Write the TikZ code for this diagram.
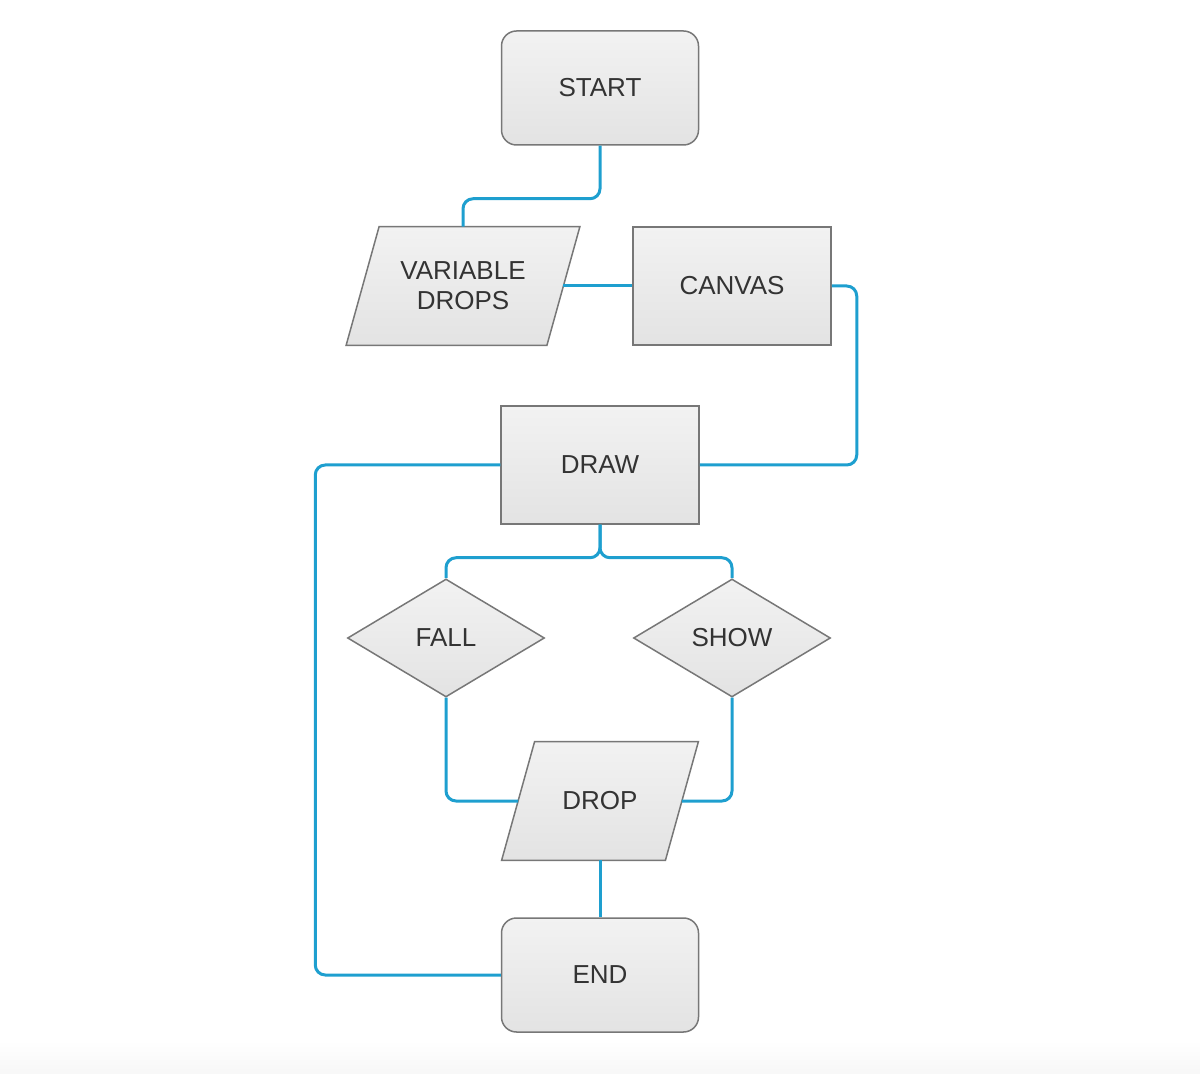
\documentclass[tikz,border=0pt]{standalone}
\usepackage{fontspec}
\setmainfont{Liberation Sans}
\usetikzlibrary{shapes.geometric,backgrounds}
\definecolor{linkblue}{HTML}{1E9FCF}
\definecolor{boxline}{HTML}{777777}
\definecolor{boxtop}{HTML}{F2F2F2}
\definecolor{boxbot}{HTML}{E3E3E3}
\definecolor{txt}{HTML}{333333}
\begin{document}
\begin{tikzpicture}[x=0.5pt,y=-0.5pt,
	boxfill/.style={draw=boxline,line width=0.75pt,top color=boxtop,bottom color=boxbot},
	box/.style={boxfill,text=txt,font=\fontsize{13}{15}\selectfont,align=center,inner sep=0pt},
	terminal/.style={box,rounded corners=7.5pt,minimum width=98.5pt,minimum height=57pt},
	process/.style={box,minimum width=99pt,minimum height=59pt},
	io/.style={text=txt,font=\fontsize{13}{15}\selectfont,align=center,inner sep=0pt,
		minimum width=#1,minimum height=59pt},
	decision/.style={box,diamond,minimum width=98.5pt,minimum height=59pt},
	link/.style={draw=linkblue,line width=1.5pt,rounded corners=5pt}]
\useasboundingbox (0,0) rectangle (1200,1074);
\shade[top color=white,bottom color=black!3] (0,1040) rectangle (1200,1074);
\node[terminal] (start) at (600,88) {START};
\node[io=100pt] (vardrops) at (463,286) {VARIABLE\\DROPS};
\node[process] (canvas) at (732,286) {CANVAS};
\node[process] (draw) at (600,465) {DRAW};
\node[decision] (fall) at (446,638) {FALL};
\node[decision] (show) at (732,638) {SHOW};
\node[io=81.5pt] (drop) at (600,801) {DROP};
\node[terminal] (end) at (600,975) {END};
% slanted input/output boxes behind their text
\begin{pgfonlayer}{background}
\foreach \n in {vardrops,drop}
	\path[boxfill] ([xshift=-8.25pt]\n.south west) -- ([xshift=-8.25pt]\n.south east)
		-- ([xshift=8.25pt]\n.north east) -- ([xshift=8.25pt]\n.north west) -- cycle;
\end{pgfonlayer}
\draw[link] (start.south) -- ++(0,53) -| (vardrops.north);
\draw[link] (vardrops.east) -- (canvas.west);
\draw[link] (canvas.east) -- ++(25,0) |- (draw.east);
\draw[link] (draw.west) -- ++(-185,0) |- (end.west);
\draw[link] (draw.south) -- ++(0,33) -| (fall.north);
\draw[link] (draw.south) -- ++(0,33) -| (show.north);
\draw[link] (fall.south) |- (drop.west);
\draw[link] (show.south) |- (drop.east);
\draw[link] (drop.south) -- (end.north);
\end{tikzpicture}
\end{document}
